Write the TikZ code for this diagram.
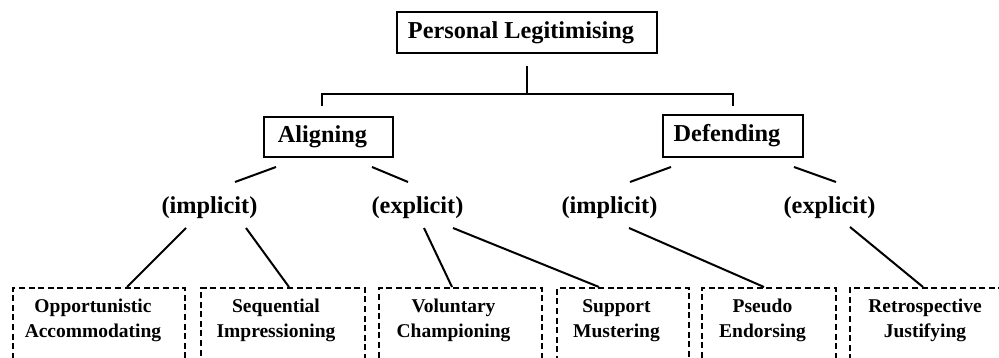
\documentclass[tikz,border=0pt]{standalone}
\usepackage{fontspec}
\setmainfont{Liberation Serif}
\usetikzlibrary{calc}

\tikzset{
  big/.style={font=\fontsize{24.3}{29}\selectfont\bfseries},
  small/.style={font=\fontsize{19.5}{25}\selectfont\bfseries, align=center, inner sep=0pt},
  solidbox/.style={big, draw, line width=2pt, inner sep=0pt},
  padright/.style={execute at end node={\hspace*{12pt}}},
  dashbox/.style={draw, line width=2pt, dash pattern=on 6pt off 3.6pt,
                  minimum height=100pt, anchor=north, inner sep=0pt},
  tag/.style={big, inner sep=0pt},
  link/.style={line width=2pt},
}

\begin{document}
\begin{tikzpicture}[x=1pt, y=-1pt]
  \useasboundingbox[fill=white] (0,0) rectangle (999,358);

  % top level
  \node[solidbox, minimum width=260pt, minimum height=41pt, padright] (root) at (527,32.5) {Personal Legitimising};

  % second level
  \node[solidbox, minimum width=129pt, minimum height=40pt, padright] (align) at (328.5,137) {Aligning};
  \node[solidbox, minimum width=140pt, minimum height=42pt, padright] (defend) at (733,136) {Defending};

  % implicit / explicit
  \node[tag] (imp1) at (209.5,208) {(implicit)};
  \node[tag] (exp1) at (417.5,208) {(explicit)};
  \node[tag] (imp2) at (609.5,208) {(implicit)};
  \node[tag] (exp2) at (829.5,208) {(explicit)};

  % strategy boxes (open towards the bottom edge)
  \node[dashbox, minimum width=172pt] (b1) at (99,287) {};
  \node[dashbox, minimum width=164pt] (b2) at (283,287) {};
  \node[dashbox, minimum width=163pt] (b3) at (460.5,287) {};
  \node[dashbox, minimum width=132pt] (b4) at (623,287) {};
  \node[dashbox, minimum width=134pt] (b5) at (769,287) {};
  \node[dashbox, minimum width=152pt] (b6) at (926,287) {};

  \node[small] (t1) at (93,320.5) {Opportunistic\\Accommodating};
  \node[small] (t2) at (276,320.5) {Sequential\\Impressioning};
  \node[small] (t3) at (453.5,320.5) {Voluntary\\Championing};
  \node[small] (t4) at (616.5,320.5) {Support\\Mustering};
  \node[small] (t5) at (762.5,320.5) {Pseudo\\Endorsing};
  \node[small] (t6) at (925,320.5) {Retrospective\\Justifying};

  % bracket from the root
  \coordinate (bar) at (527,94);
  \draw[link] ($(root.south)+(0,12)$) -- (bar);
  \draw[link] ($(align.north)+(-6.5,-10)$) |- (bar) -| ($(defend.north)+(0,-8)$);

  % second level to implicit / explicit
  \draw[link] ($(align.south west)+(13,9)$) -- ($(imp1.center)+(25.5,-26)$);
  \draw[link] ($(align.south west)+(109,9)$) -- ($(exp1.center)+(-9.5,-26)$);
  \draw[link] ($(defend.south west)+(9,9)$) -- ($(imp2.center)+(20.5,-26)$);
  \draw[link] ($(defend.south east)+(-10,9)$) -- ($(exp2.center)+(6.5,-26)$);

  % implicit / explicit to strategies
  \draw[link] ($(imp1.center)+(-23.5,20)$) -- ($(b1.north west)+(115,0)$);
  \draw[link] ($(imp1.center)+(36.5,20)$) -- ($(b2.north west)+(89,0)$);
  \draw[link] ($(exp1.center)+(6.5,20)$) -- ($(b3.north west)+(74,0)$);
  \draw[link] ($(exp1.center)+(35.5,20)$) -- ($(b4.north west)+(43,0)$);
  \draw[link] ($(imp2.center)+(19.5,20)$) -- ($(b5.north west)+(63,0)$);
  \draw[link] ($(exp2.center)+(20.5,19)$) -- ($(b6.north west)+(74,0)$);
\end{tikzpicture}
\end{document}
